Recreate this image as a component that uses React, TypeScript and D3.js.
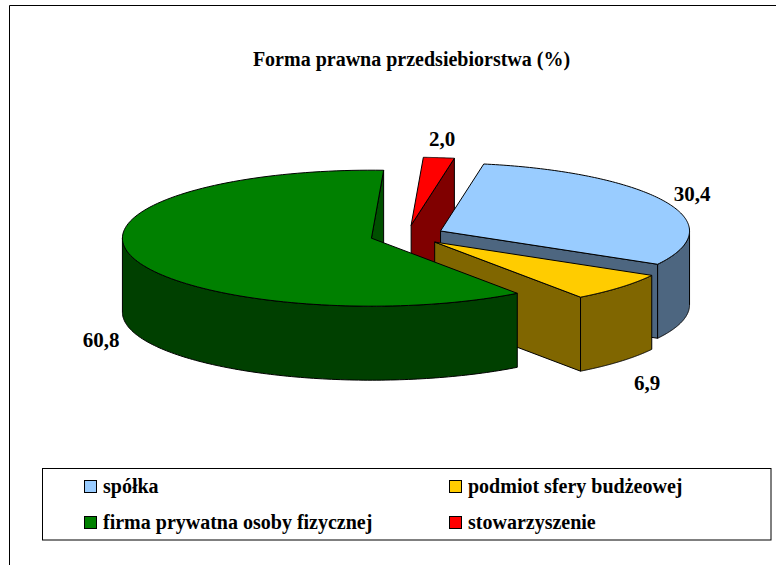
import React from "react";
import * as d3 from "d3";

const categories = ["spółka", "podmiot sfery budżeowej", "firma prywatna osoby fizycznej", "stowarzyszenie"];
const values = [30.4, 6.9, 60.8, 2.0];
const valueLabels = ["30,4", "6,9", "60,8", "2,0"];
const topColors = ["#99CCFF", "#FFCC00", "#008000", "#FF0000"];
const wallColors = ["#4D6680", "#806600", "#004000", "#800000"];
const sideColors = ["#4D6680", "#806600", "#005000", "#800000"];
const title = "Forma prawna przedsiebiorstwa (%)";

const W = 776, H = 565;
const cx = 407, cy = 235.3, rx = 249, ry = 68, depth = 74, explode = 0.149;
const startAngle = (10 * Math.PI) / 180;
const FONT = "'Liberation Serif', 'Times New Roman', serif";

const labelPos: [number, number][] = [[692, 201], [647, 390], [101, 347], [442, 146]];
const legendPos: [number, number][] = [[84, 480], [449, 480], [84, 516], [449, 516]];
const legendOrder = [0, 1, 2, 3];

const arcs = d3.pie<number>().sort(null).startAngle(startAngle).endAngle(startAngle + 2 * Math.PI)(values);

// Unit-circle angle to flattened ellipse point
const px = d3.scaleLinear().domain([-1, 1]).range([-rx, rx]);
const py = d3.scaleLinear().domain([-1, 1]).range([-ry, ry]);
const pt = (t: number, ox: number, oy: number, dz = 0): [number, number] => [
  ox + px(Math.sin(t)),
  oy + py(-Math.cos(t)) + dz,
];
const sampleArc = (a: number, b: number, ox: number, oy: number, dz = 0) =>
  d3.range(0, 121).map((i) => pt(a + ((b - a) * i) / 120, ox, oy, dz));
const line = d3.line();

function Slice({ i }: { i: number }) {
  const a = arcs[i];
  const mid = (a.startAngle + a.endAngle) / 2;
  const ox = cx + explode * px(Math.sin(mid));
  const oy = cy + explode * py(-Math.cos(mid));
  const s0 = a.startAngle, s1 = a.endAngle;
  const apex: [number, number] = [ox, oy];
  const apexD: [number, number] = [ox, oy + depth];

  const walls: string[] = [];
  [[Math.PI / 2, (3 * Math.PI) / 2], [(5 * Math.PI) / 2, (7 * Math.PI) / 2]].forEach(([f0, f1]) => {
    const lo = Math.max(s0, f0), hi = Math.min(s1, f1);
    if (hi > lo) {
      const top = sampleArc(lo, hi, ox, oy);
      const bottom = sampleArc(hi, lo, ox, oy, depth);
      walls.push(line([...top, ...bottom]) + "Z");
    }
  });

  const sides: string[] = [];
  if (Math.sin(s0) < 0) sides.push(line([apex, pt(s0, ox, oy), pt(s0, ox, oy, depth), apexD]) + "Z");
  if (Math.sin(s1) > 0) sides.push(line([apex, pt(s1, ox, oy), pt(s1, ox, oy, depth), apexD]) + "Z");

  const top = line([apex, ...sampleArc(s0, s1, ox, oy)]) + "Z";
  return (
    <g stroke="#000" strokeWidth={1} strokeLinejoin="round">
      {sides.map((d, k) => <path key={k} d={d} fill={sideColors[i]} />)}
      {walls.map((d, k) => <path key={k} d={d} fill={wallColors[i]} />)}
      <path d={top} fill={topColors[i]} />
    </g>
  );
}

const drawOrder = [3, 0, 1, 2];

export default function App() {
  return (
    <svg
      width={W}
      height={H}
      viewBox={`0 0 ${W} ${H}`}
      style={{ position: "fixed", left: 0, top: 0, display: "block", background: "#fff" }}
      fontFamily={FONT}
      fontWeight="bold"
    >
      <path d={`M9.5 ${H}V5.5H${W}`} fill="none" stroke="#000" strokeWidth={1} />
      <text x={411.5} y={66} textAnchor="middle" fontSize={20} fill="#000">{title}</text>
      {drawOrder.map((i) => <Slice key={i} i={i} />)}
      {valueLabels.map((l, i) => (
        <text key={l} x={labelPos[i][0]} y={labelPos[i][1]} textAnchor="middle" fontSize={21} fill="#000">{l}</text>
      ))}
      <rect x={42.5} y={468.5} width={728.5} height={71.5} fill="#fff" stroke="#000" strokeWidth={1} />
      {legendOrder.map((i, k) => (
        <g key={i}>
          <rect x={legendPos[k][0] + 0.5} y={legendPos[k][1] + 0.5} width={12} height={12} fill={topColors[i]} stroke="#000" />
          <text x={legendPos[k][0] + 19} y={legendPos[k][1] + 13} fontSize={20} fill="#000">{categories[i]}</text>
        </g>
      ))}
    </svg>
  );
}
